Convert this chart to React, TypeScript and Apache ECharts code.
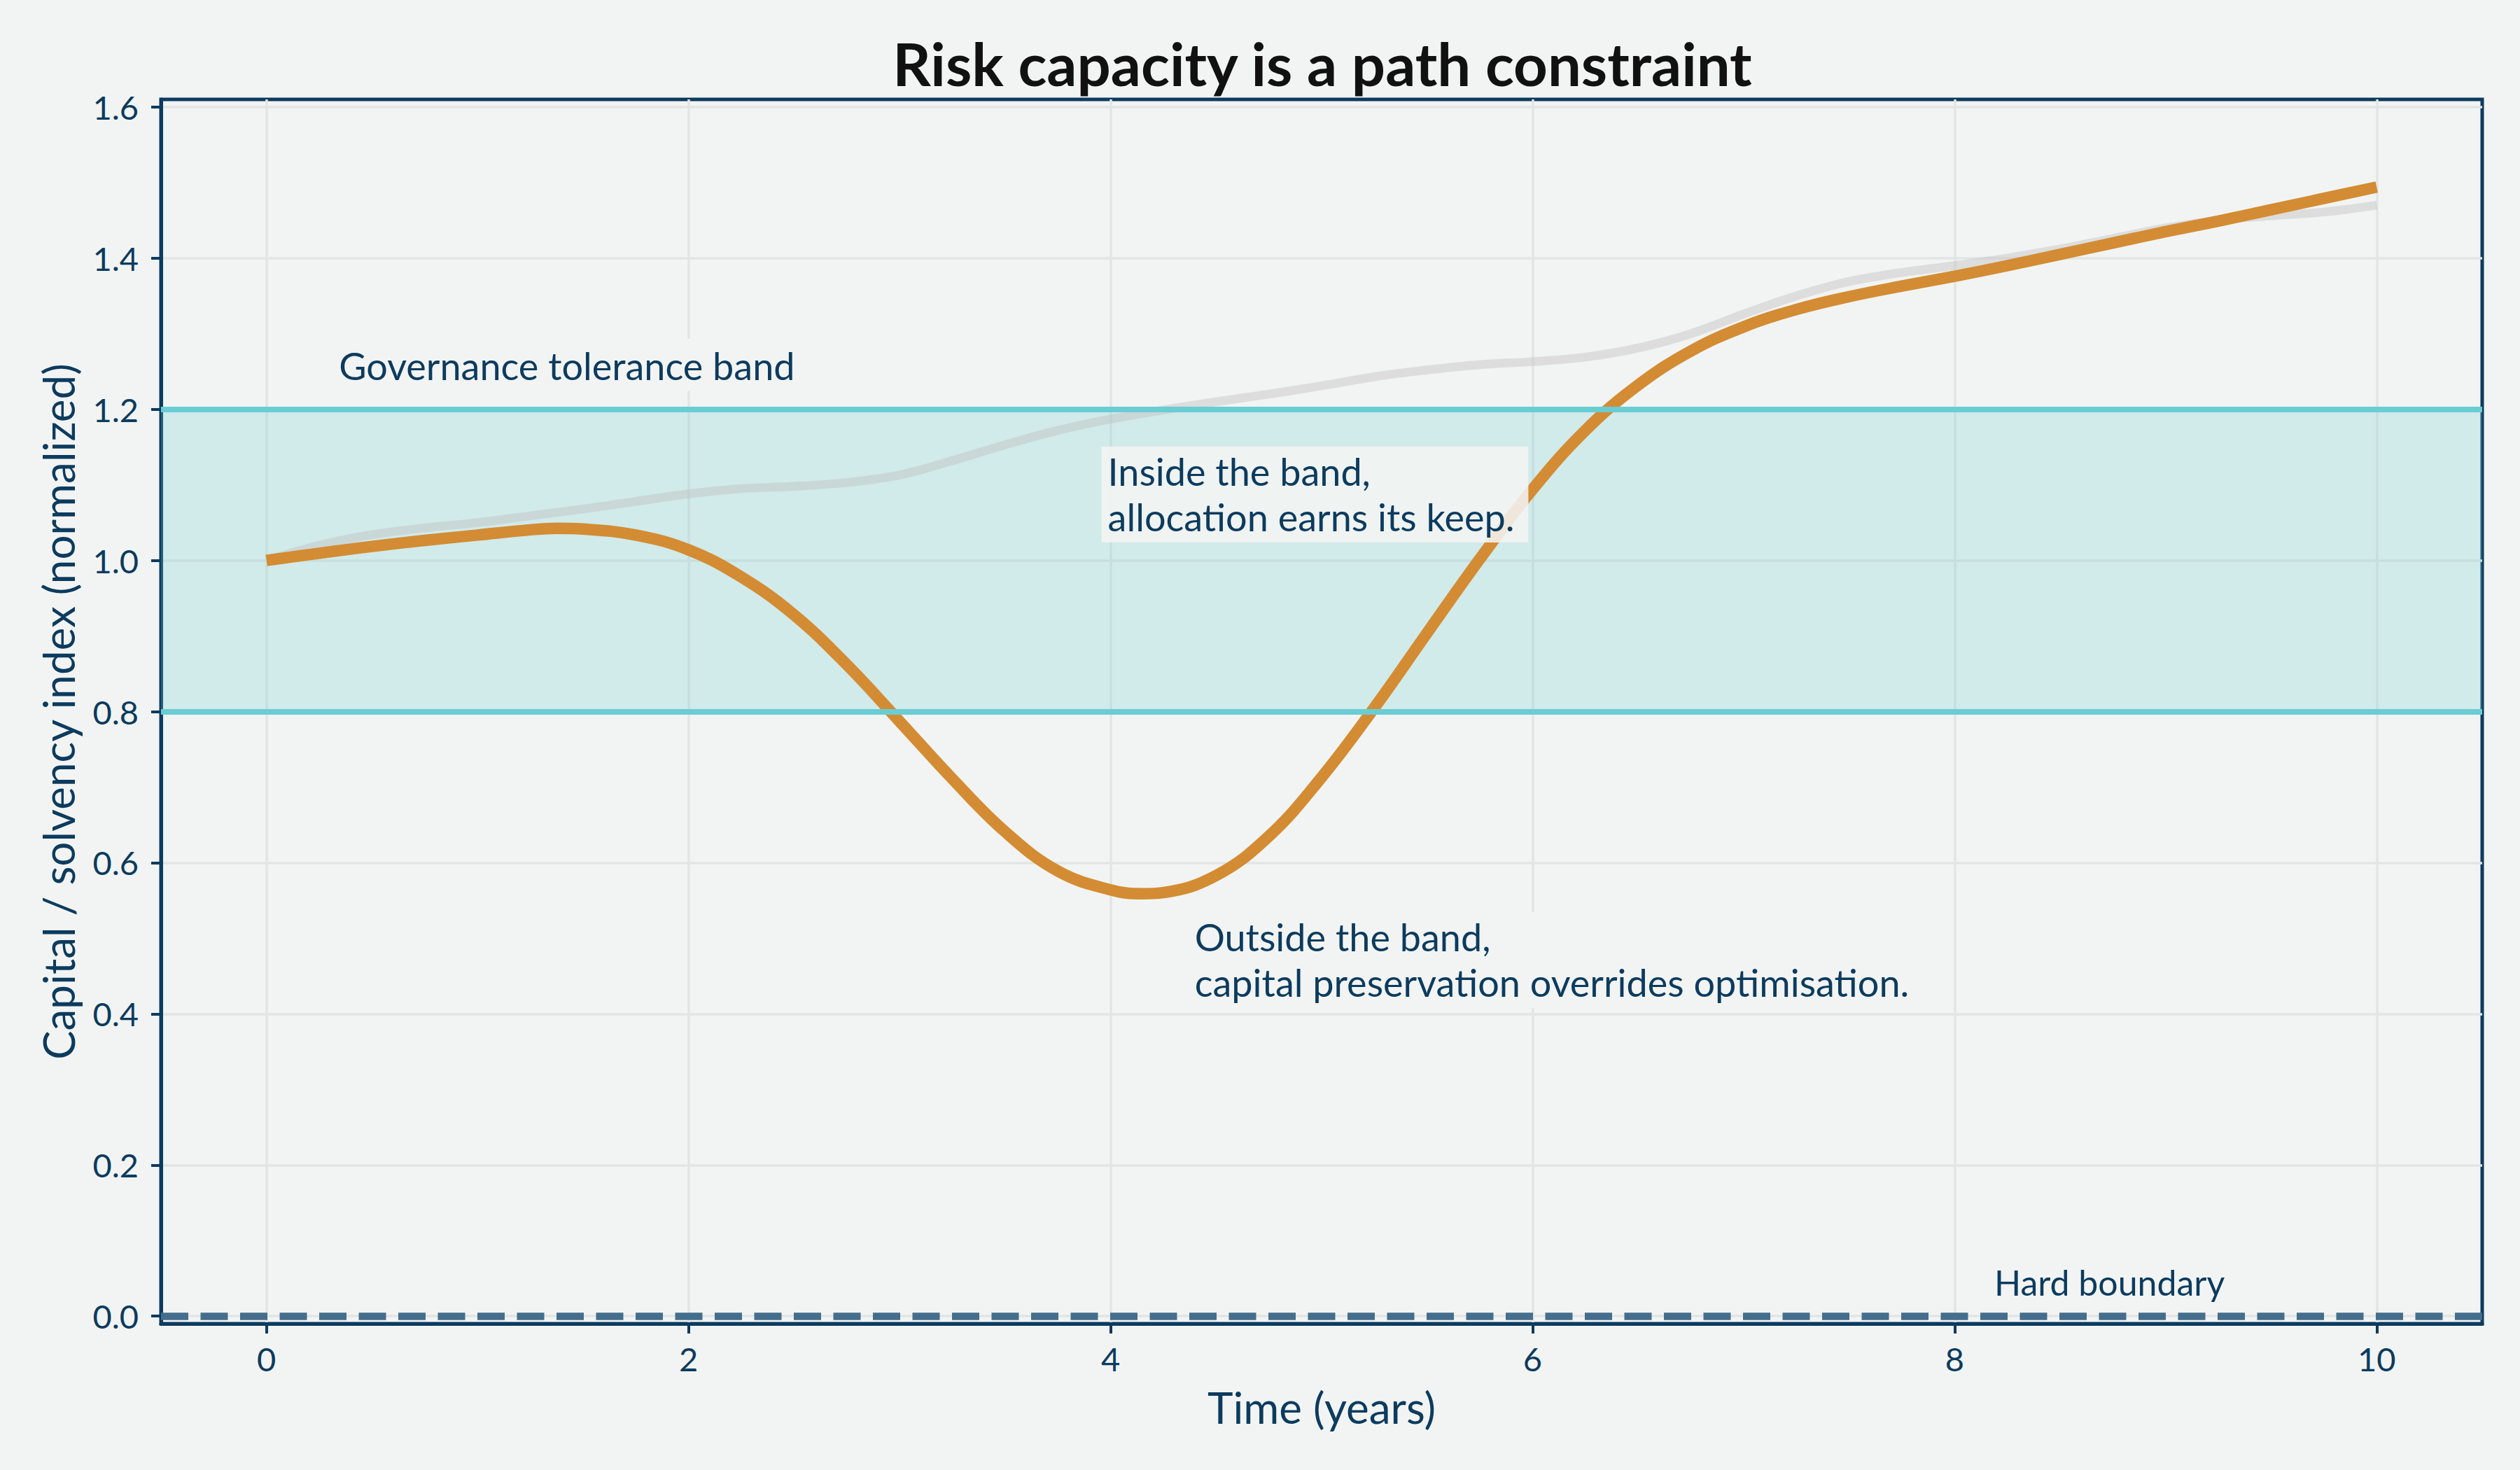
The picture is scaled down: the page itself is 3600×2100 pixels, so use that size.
import { useEffect, useRef } from 'react';
import * as echarts from 'echarts';

// Time axis (years) for the grey reference path
const baselineYears = [
  0, 0.25, 0.5, 0.75, 1, 1.25, 1.5, 1.75, 2, 2.25, 2.5, 2.75, 3, 3.25, 3.5, 3.75,
  4, 4.25, 4.5, 4.75, 5, 5.25, 5.5, 5.75, 6, 6.25, 6.5, 6.75, 7, 7.25, 7.5, 7.75,
  8, 8.25, 8.5, 8.75, 9, 9.25, 9.5, 9.75, 10,
];

// grey: smooth reference path
const baselinePath = [
  1.0, 1.02, 1.034, 1.043, 1.05, 1.059, 1.068, 1.078, 1.088, 1.095, 1.098, 1.103, 1.113, 1.132, 1.153, 1.172,
  1.187, 1.199, 1.21, 1.22, 1.231, 1.243, 1.252, 1.259, 1.263, 1.269, 1.281, 1.3, 1.326, 1.35, 1.369, 1.381,
  1.39, 1.4, 1.412, 1.426, 1.44, 1.45, 1.456, 1.461, 1.47,
];

// Time axis (years) for the orange path, with extra readings at its peak and trough
const stressedYears = [
  0, 0.25, 0.5, 0.75, 1, 1.25, 1.375, 1.5, 1.75, 2, 2.25, 2.5, 2.75, 3, 3.25, 3.5, 3.75,
  4, 4.15, 4.25, 4.5, 4.75, 5, 5.25, 5.5, 5.75, 6, 6.25, 6.5, 6.75, 7, 7.25, 7.5, 7.75,
  8, 8.25, 8.5, 8.75, 9, 9.25, 9.5, 9.75, 10,
];

// orange: stressed path that leaves the band
const stressedPath = [
  1.0, 1.0095, 1.0185, 1.0265, 1.0335, 1.0405, 1.0425, 1.0415, 1.0335, 1.014, 0.978, 0.928, 0.862, 0.787, 0.711, 0.641, 0.589,
  0.564, 0.559, 0.5605, 0.583, 0.635, 0.713, 0.805, 0.904, 1.002, 1.094, 1.172, 1.232, 1.277, 1.309, 1.332, 1.349, 1.363,
  1.376, 1.39, 1.405, 1.42, 1.435, 1.449, 1.464, 1.479, 1.494,
];

const xTickValues = [0, 2, 4, 6, 8, 10];
const yTickValues = [0, 0.2, 0.4, 0.6, 0.8, 1.0, 1.2, 1.4, 1.6];

const bandLower = 0.8;
const bandUpper = 1.2;
const hardBoundary = 0;

const titleText = 'Risk capacity is a path constraint';
const xName = 'Time (years)';
const yName = 'Capital / solvency index (normalized)';

const noteTexts = [
  'Governance tolerance band',
  'Inside the band,\nallocation earns its keep.',
  'Outside the band,\ncapital preservation overrides optimisation.',
  'Hard boundary',
];
// top-left corner of each note box, in data units
const noteAnchors = [
  [0.31, 1.293],
  [3.957, 1.1506],
  [4.372, 0.5345],
  [8.168, 0.074],
];

export default function App() {
  const chartRef = useRef<HTMLDivElement>(null);

  useEffect(() => {
    if (!chartRef.current) return;
    const chart = echarts.init(chartRef.current, null, { renderer: 'svg' });

    const navy = '#0c3b5e';
    const bg = '#f2f4f3';
    const font = 'Lato';

    const stressed = stressedYears.map((t, i) => [t, stressedPath[i]]);
    const baseline = baselineYears.map((t, i) => [t, baselinePath[i]]);

    const option: any = {
      animation: false,
      backgroundColor: bg,
      textStyle: { fontFamily: font },
      title: {
        text: titleText,
        left: 1889,
        top: 47,
        padding: 0,
        textAlign: 'center',
        textStyle: { fontFamily: font, fontSize: 85, lineHeight: 85, fontWeight: 'bold', color: '#111111' },
      },
      grid: {
        left: 230,
        right: 54,
        top: 142,
        bottom: 209,
        show: true,
        borderColor: navy,
        borderWidth: 5,
        backgroundColor: 'transparent',
      },
      xAxis: {
        type: 'value',
        min: -0.5,
        max: 10.5,
        minInterval: 2,
        maxInterval: 2,
        name: xName,
        nameLocation: 'middle',
        nameGap: 88,
        nameTextStyle: { fontFamily: font, fontSize: 62, lineHeight: 62, color: navy },
        axisLine: { show: true, onZero: false, lineStyle: { color: navy, width: 5 } },
        axisTick: { show: true, length: 14, customValues: xTickValues, lineStyle: { color: navy, width: 4 } },
        axisLabel: {
          customValues: xTickValues,
          margin: 26,
          fontFamily: font,
          fontSize: 47,
          lineHeight: 47,
          color: navy,
          formatter: (v: number) => String(v),
        },
        splitLine: { show: true, lineStyle: { color: '#e3e5e4', width: 3.5 } },
      },
      yAxis: {
        type: 'value',
        min: -0.01,
        max: 1.61,
        minInterval: 0.2,
        maxInterval: 0.2,
        name: yName,
        nameLocation: 'middle',
        nameGap: 116,
        nameTextStyle: { fontFamily: font, fontSize: 62, lineHeight: 62, color: navy },
        axisLine: { show: true, onZero: false, lineStyle: { color: navy, width: 5 } },
        axisTick: { show: true, length: 14, customValues: yTickValues, lineStyle: { color: navy, width: 4 } },
        axisLabel: {
          customValues: yTickValues,
          margin: 32,
          fontFamily: font,
          fontSize: 47,
          color: navy,
          formatter: (v: number) => v.toFixed(1),
        },
        splitLine: { show: true, lineStyle: { color: '#e3e5e4', width: 3.5 } },
      },
      series: [
        {
          name: 'Tolerance band',
          type: 'line',
          data: [],
          z: 1,
          silent: true,
          markArea: {
            silent: true,
            itemStyle: { color: 'rgba(110,202,207,0.25)' },
            data: [[{ yAxis: bandLower }, { yAxis: bandUpper }]],
          },
          markLine: {
            silent: true,
            symbol: ['none', 'none'],
            label: { show: false },
            lineStyle: { color: '#69cdd3', width: 8, type: 'solid' },
            data: [{ yAxis: bandLower }, { yAxis: bandUpper }],
          },
        },
        {
          name: 'Baseline path',
          type: 'line',
          data: baseline,
          z: 3,
          silent: true,
          symbol: 'none',
          smooth: 0.35,
          lineStyle: { color: '#c0c0c0', opacity: 0.45, width: 12.5, cap: 'butt', join: 'round' },
        },
        {
          name: 'Stressed path',
          type: 'line',
          data: stressed,
          z: 4,
          silent: true,
          symbol: 'none',
          smooth: 0.4,
          lineStyle: { color: '#d38c33', width: 16.5, cap: 'butt', join: 'round' },
        },
        {
          name: 'Hard boundary',
          type: 'line',
          data: [],
          z: 5,
          silent: true,
          markLine: {
            silent: true,
            symbol: ['none', 'none'],
            label: { show: false },
            lineStyle: { color: '#446e8c', width: 10.5, type: [39, 17.5] },
            data: [{ yAxis: hardBoundary }],
          },
        },
      ],
    };

    chart.setOption(option);

    // annotation boxes placed through the grid's own scales
    const noteStyles = [
      { fontSize: 54, lineHeight: 56, padding: [10, 10, 8, 10], backgroundColor: bg },
      { fontSize: 54, lineHeight: 65, padding: [3, 20, 4, 9], backgroundColor: 'rgba(242,244,243,0.88)' },
      { fontSize: 54, lineHeight: 65, padding: [3, 10, 4, 8], backgroundColor: bg },
      { fontSize: 50, lineHeight: 60, padding: [2, 6, 2, 6], backgroundColor: bg },
    ];
    const graphic = noteTexts.map((text, i) => {
      const p = chart.convertToPixel({ gridIndex: 0 }, noteAnchors[i]) as number[];
      const s = noteStyles[i];
      return {
        type: 'text',
        x: p[0],
        y: p[1],
        z: 10,
        silent: true,
        style: {
          text,
          fill: navy,
          fontFamily: font,
          fontSize: s.fontSize,
          lineHeight: s.lineHeight,
          backgroundColor: s.backgroundColor,
          padding: s.padding,
          align: 'left',
          verticalAlign: 'top',
        },
      };
    });
    chart.setOption({ graphic });

    return () => {
      chart.dispose();
    };
  }, []);

  return (
    <div
      ref={chartRef}
      style={{ position: 'fixed', left: 0, top: 0, width: '3600px', height: '2100px' }}
    />
  );
}
